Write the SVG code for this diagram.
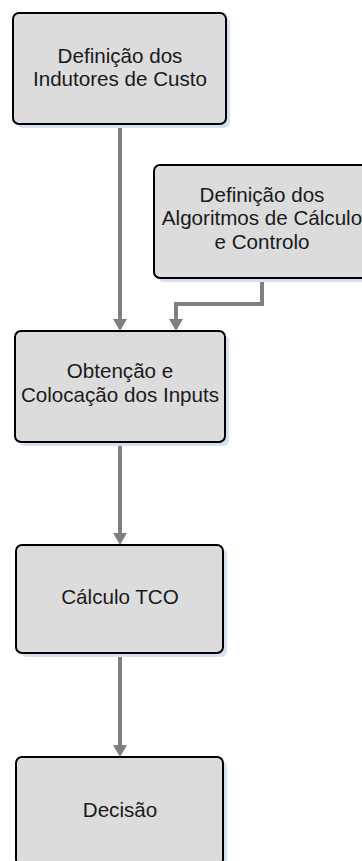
<svg xmlns="http://www.w3.org/2000/svg" width="362" height="861" viewBox="0 0 362 861">
  <style>
    .shadow { fill: #d6e0f0; }
    .box { fill: #dcdcdc; stroke: #000; stroke-width: 2; }
    .label { font-family: "Liberation Sans", Arial, sans-serif; font-size: 20.6px; fill: #1a1a1a; text-anchor: middle; }
    .conn { fill: none; stroke: #808080; stroke-width: 4; }
    .head { fill: #808080; }
  </style>
  <rect width="362" height="861" fill="#ffffff"/>

  <g id="connectors">
    <path class="conn" d="M120,125 V319"/>
    <path class="conn" d="M262,279 V304 H176 V319"/>
    <path class="conn" d="M120,443 V533"/>
    <path class="conn" d="M120,654 V745"/>
    <path class="head" d="M113,319 H127 L120,331 Z"/>
    <path class="head" d="M169,319 H183 L176,331 Z"/>
    <path class="head" d="M113,533 H127 L120,545 Z"/>
    <path class="head" d="M113,745 H127 L120,757 Z"/>
  </g>

  <g id="n1">
    <rect class="shadow" x="17" y="17" width="213" height="111" rx="6"/>
    <rect class="box" x="13" y="13" width="213" height="111" rx="6"/>
    <text class="label" x="120" y="63">Definição dos</text>
    <text class="label" x="120" y="86">Indutores de Custo</text>
  </g>

  <g id="n2">
    <rect class="shadow" x="158" y="169" width="214" height="113" rx="6"/>
    <rect class="box" x="154" y="165" width="214" height="113" rx="6"/>
    <text class="label" x="262" y="202">Definição dos</text>
    <text class="label" x="262" y="225">Algoritmos de Cálculo</text>
    <text class="label" x="262" y="249">e Controlo</text>
  </g>

  <g id="n3">
    <rect class="shadow" x="19" y="335" width="210" height="111" rx="6"/>
    <rect class="box" x="15" y="331" width="210" height="111" rx="6"/>
    <text class="label" x="120" y="378">Obtenção e</text>
    <text class="label" x="120" y="402">Colocação dos Inputs</text>
  </g>

  <g id="n4">
    <rect class="shadow" x="20" y="549" width="207" height="108" rx="6"/>
    <rect class="box" x="16" y="545" width="207" height="108" rx="6"/>
    <text class="label" x="120" y="604">Cálculo TCO</text>
  </g>

  <g id="n5">
    <rect class="shadow" x="20" y="761" width="207" height="108" rx="6"/>
    <rect class="box" x="16" y="757" width="207" height="108" rx="6"/>
    <text class="label" x="120" y="817">Decisão</text>
  </g>
</svg>
